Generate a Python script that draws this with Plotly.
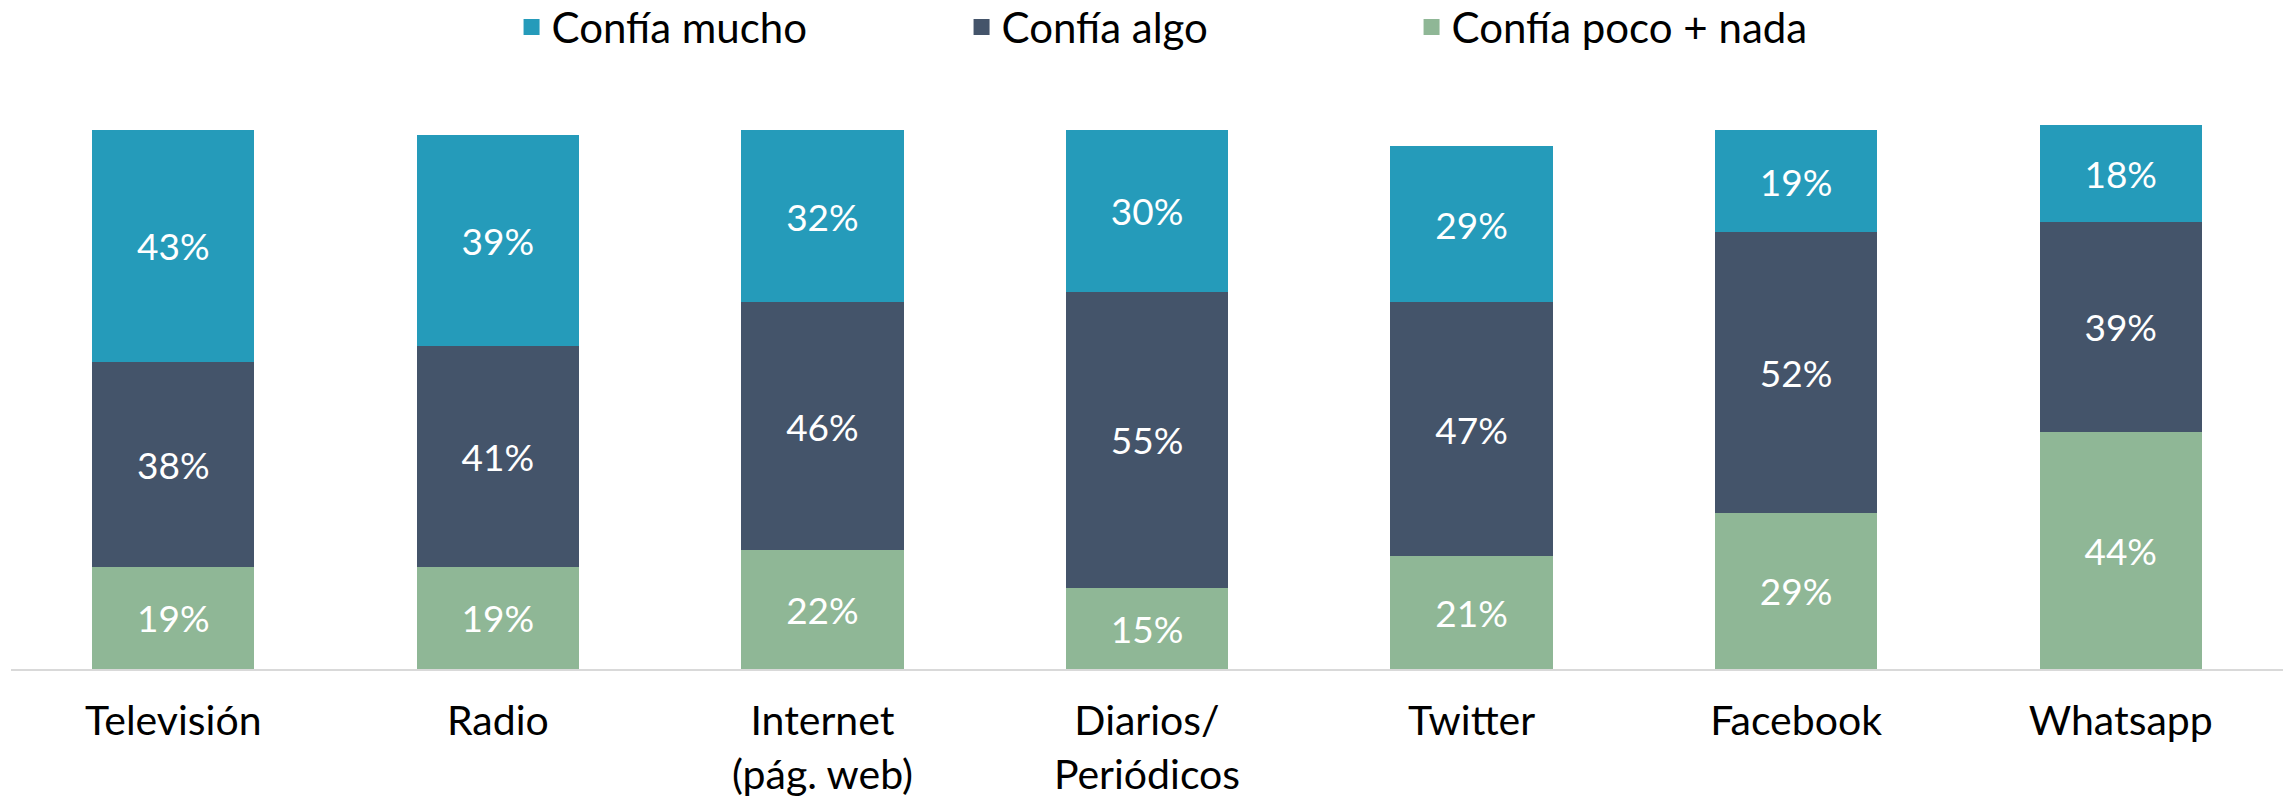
import plotly.graph_objects as go

categories = ["Televisión", "Radio", "Internet<br>(pág. web)", "Diarios/<br>Periódicos",
              "Twitter", "Facebook", "Whatsapp"]
confia_mucho = [43, 39, 32, 30, 29, 19, 18]
confia_algo = [38, 41, 46, 55, 47, 52, 39]
confia_poco_nada = [19, 19, 22, 15, 21, 29, 44]

series = [
    ("Confía poco + nada", confia_poco_nada, "#8FB796"),
    ("Confía algo", confia_algo, "#44546A"),
    ("Confía mucho", confia_mucho, "#259BBA"),
]

fig = go.Figure()
for name, vals, color in series:
    fig.add_trace(go.Bar(
        x=categories, y=vals, name=name, marker=dict(color=color, line=dict(width=0)),
        width=0.5, text=[f"{v}%" for v in vals], textposition="inside",
        insidetextanchor="middle", textangle=0,
        textfont=dict(family="Lato", size=37, color="white"),
        showlegend=False, hoverinfo="skip",
    ))

# legend entries (square markers)
for name, vals, color in reversed(series):
    fig.add_trace(go.Scatter(
        x=[None], y=[None], mode="markers", name=name,
        marker=dict(symbol="square", size=16, color=color),
        showlegend=True,
    ))

W, H = 2295, 798
fig.update_layout(
    barmode="stack",
    width=W, height=H,
    margin=dict(l=11, r=12, t=76, b=129, autoexpand=False),
    paper_bgcolor="white", plot_bgcolor="white",
    uniformtext=dict(minsize=37, mode="show"),
    legend=dict(orientation="h", xref="container", x=0.2229, xanchor="left",
                yref="container", y=0.966, yanchor="middle",
                font=dict(family="Lato", size=42, color="#000000"),
                itemsizing="trace", entrywidth=405, traceorder="normal"),
    xaxis=dict(showline=True, linecolor="#D9D9D9", linewidth=2, ticks="",
               tickfont=dict(family="Lato", size=41, color="#000000"),
               ticklabelstandoff=15, range=[-0.5, 6.5], automargin=False),
    yaxis=dict(range=[0, 110], visible=False, showgrid=False, zeroline=False,
               automargin=False),
)

fig.write_html("out.html", config={"displayModeBar": False},
               post_script="document.body.style.margin='0';document.body.style.overflow='hidden';")
